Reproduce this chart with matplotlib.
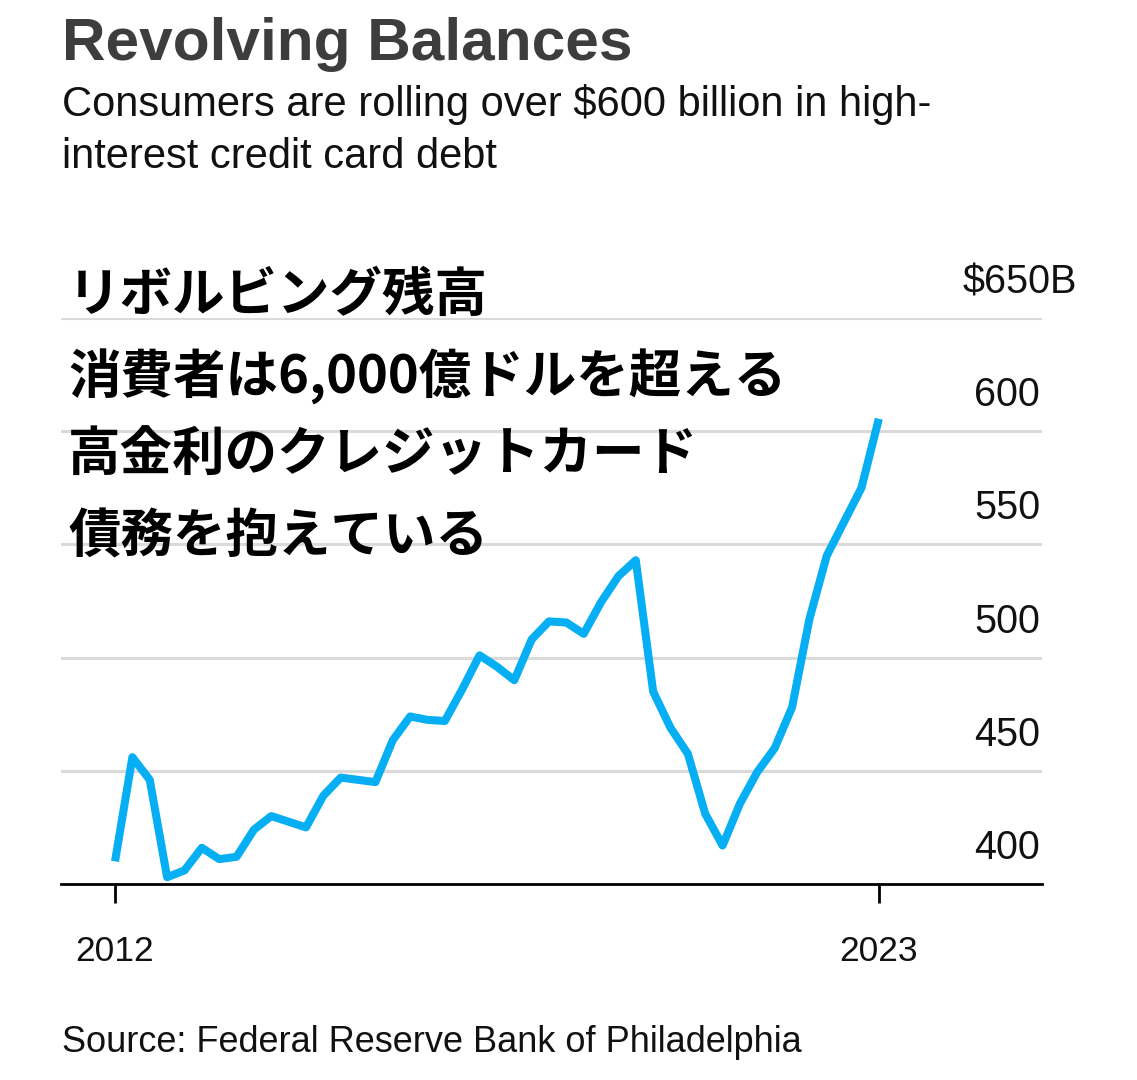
import matplotlib
matplotlib.use("Agg")
import matplotlib.pyplot as plt
import matplotlib.transforms as mtransforms
import numpy as np
import pandas as pd

# ---- data (quarterly, 2012Q1 - 2023Q1), $ billions ----
quarters = pd.period_range("2012Q1", "2023Q1", freq="Q")
balances = [410, 456, 446, 403, 406, 416, 411, 412, 424, 430,
            427.5, 425, 439, 447, 446, 445, 463.5, 474, 472.5, 472,
            486, 501, 496, 490, 508, 516, 515.5, 510.5, 524.5, 536,
            543, 485, 469, 457.5, 431, 417, 435.5, 449.5, 460, 478,
            517, 545, 560, 575, 605.5]
y_ticks = [400, 450, 500, 550, 600, 650]
y_tick_labels = ["400", "450", "500", "550", "600", "$650B"]
x_ticks = [2012, 2023]
x_tick_labels = ["2012", "2023"]

title = "Revolving Balances"
subtitle = ["Consumers are rolling over $600 billion in high-",
            "interest credit card debt"]
jp_lines = ["リボルビング残高",
            "消費者は6,000億ドルを超える",
            "高金利のクレジットカード",
            "債務を抱えている"]
source = "Source: Federal Reserve Bank of Philadelphia"

W, H = 1137, 1080
fig = plt.figure(figsize=(W / 100, H / 100), dpi=100)
fig.patch.set_facecolor("white")

# axes placement (pixels): x 61..1042, y 318 (650) .. 884 (400)
ax = fig.add_axes([61 / W, 1 - 884 / H, (1042 - 61) / W, (884 - 318) / H])
x = quarters.year + (quarters.quarter - 1) / 4.0

for v in y_ticks[1:]:
    ax.axhline(v, color="#dadada", lw=2.2, zorder=1)

ax.plot(x, balances, color="#06AEF4", lw=5.8, solid_joinstyle="round",
        solid_capstyle="butt", zorder=3, clip_on=False)

ax.set_xlim(2011.222, 2025.35)
ax.set_ylim(400, 650)
for s in ["top", "left", "right"]:
    ax.spines[s].set_visible(False)
ax.spines["bottom"].set_color("black")
ax.spines["bottom"].set_linewidth(2.0)
ax.set_yticks([])
ax.set_xticks(x_ticks)
ax.set_xticklabels(x_tick_labels, fontsize=25.5, family="Liberation Sans",
                   color="#111111")
ax.tick_params(axis="x", length=13.7, width=2.0, pad=23, color="black")

# y labels right-aligned above gridlines
off = mtransforms.ScaledTranslation(0, 25 / 100, fig.dpi_scale_trans)
blend = mtransforms.blended_transform_factory(ax.transAxes, ax.transData) + off
for v, lab in zip(y_ticks, y_tick_labels):
    if lab.startswith("$"):
        ax.text((963 - 61) / (1042 - 61), v, lab, ha="left", va="baseline",
                fontsize=28.5, family="Liberation Sans", color="#111111",
                transform=blend)
    else:
        ax.text(0.998, v, lab, ha="right", va="baseline",
                fontsize=28.5, family="Liberation Sans", color="#111111",
                transform=blend)

# titles
fig.text(62 / W, 1 - 60 / H, title, fontsize=43.5, fontweight="bold",
         family="Liberation Sans", color="#3d3d3d", va="baseline", ha="left")
for i, line in enumerate(subtitle):
    fig.text(62 / W, 1 - (116 + 52 * i) / H, line, fontsize=30,
             family="Liberation Sans", color="#111111", va="baseline", ha="left")

# Japanese overlay text
jp_centers = [295, 377, 455, 537]
for line, cy in zip(jp_lines, jp_centers):
    fig.text(68 / W, 1 - cy / H, line, fontsize=37.8, fontweight="bold",
             family=["Noto Sans CJK JP", "DejaVu Sans"], color="black",
             va="center", ha="left", zorder=5)

fig.text(62 / W, 1 - 1052 / H, source, fontsize=26, family="Liberation Sans",
         color="#111111", va="baseline", ha="left")

fig.savefig("out.png", dpi=100, facecolor="white")
